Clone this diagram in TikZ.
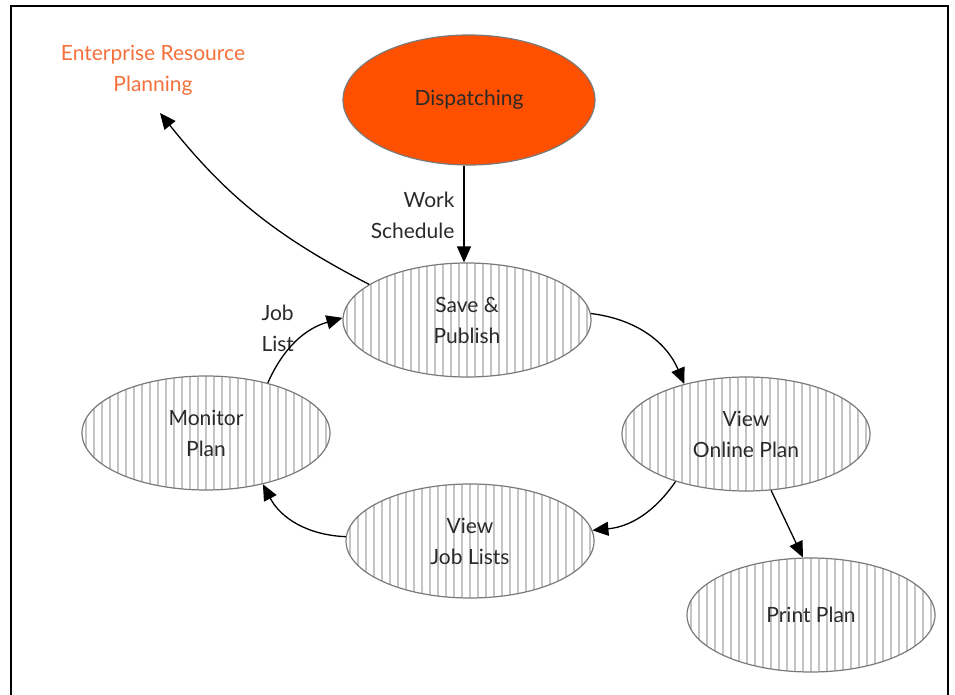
\documentclass[tikz,border=0pt]{standalone}
\usepackage{fontspec}
\setmainfont{Lato}
\usetikzlibrary{arrows.meta,shapes.geometric}
\definecolor{txt}{HTML}{2A2A2A}
\definecolor{dispfill}{HTML}{FF5000}
\definecolor{erpcol}{HTML}{F4703A}
\definecolor{rim}{HTML}{7A7A7A}
\definecolor{stripecol}{HTML}{C4C4C4}
\begin{document}
\begin{tikzpicture}[x=1pt,y=-1pt,
  lbl/.style={font=\fontsize{21}{31}\selectfont, text=txt},
  ell/.style={ellipse, draw=rim, line width=1.2pt, minimum width=248pt, minimum height=114pt, inner sep=0pt, lbl, align=center},
  striped/.style={ell, path picture={\foreach \k in {-17,...,17}{\draw[stripecol, line width=1.8pt] ([xshift=\k*8pt]path picture bounding box.north) -- ([xshift=\k*8pt]path picture bounding box.south);}}},
  conn/.style={line width=1.3pt, -{Triangle[length=16pt,width=14pt]}}
]
\useasboundingbox (0,0) rectangle (955,695);
\draw[line width=2.5pt] (11,700) -- (11,6) -- (948,6) -- (948,700);

\node[ell, fill=dispfill, minimum width=252pt, minimum height=130pt] (disp) at (469,100) {Dispatching};
\node[striped] (save) at (467,320) {Save \&\\Publish};
\node[striped] (vo) at (746,434) {View\\Online Plan};
\node[striped] (vj) at (470,541) {View\\Job Lists};
\node[striped] (mon) at (206,433) {Monitor\\Plan};
\node[striped] (print) at (811,615) {Print Plan};

\node[lbl, text=erpcol, align=center] (erp) at (153,70) {Enterprise Resource\\Planning};
\coordinate (erptip) at (160,113);
\node[lbl, align=right, anchor=east] (ws) at (458,215) {Work\\Schedule};
\node[lbl, align=left, anchor=west] (jl) at (258,328) {Job\\List};

\draw[conn] ([xshift=-5pt]disp.south) -- ([xshift=-3pt]save.north);
\draw[conn] (save.160) to[bend left=12] (erptip);
\draw[conn] (save.3) to[bend left=30] (vo.141);
\draw[conn] (vo.214) to[bend left=25] (vj.5);
\draw[conn] (vj.178) to[bend left=30] (mon.318);
\draw[conn] (mon.39) to[bend left=25] (save.179);
\draw[conn] (vo.294) -- (print.98);
\end{tikzpicture}
\end{document}
